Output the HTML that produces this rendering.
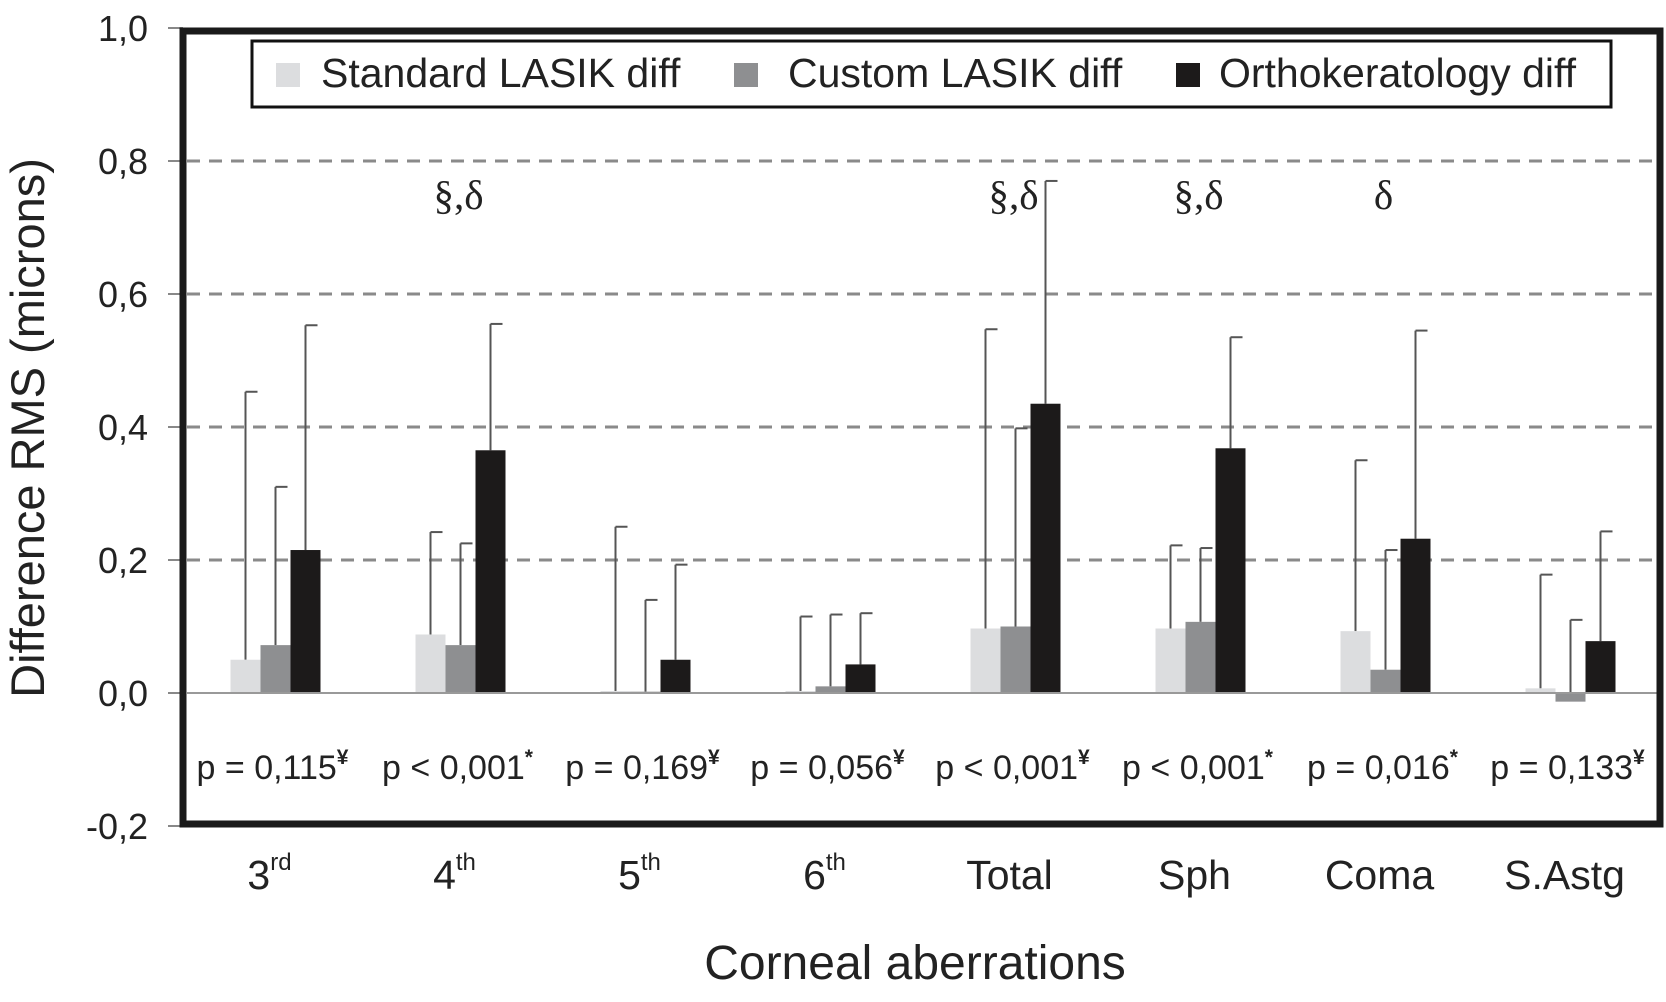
<!DOCTYPE html>
<html><head><meta charset="utf-8"><style>
body{margin:0;background:#fff;}
svg{display:block;font-family:"Liberation Sans",sans-serif;}
</style></head><body>
<svg id="chart" width="1666" height="1002">
<g id="grid"></g>
<g id="bars"></g>
<g id="axis"></g>
<rect x="183" y="31" width="1477" height="793" fill="none" stroke="#1a1a1a" stroke-width="7"/>
<g>
<rect x="252" y="41" width="1359" height="66" fill="#fff" stroke="#111" stroke-width="3"/>
<rect x="276" y="63" width="24" height="24" fill="#dcdddf"/>
<text x="321" y="87" font-size="41" fill="#222">Standard LASIK diff</text>
<rect x="734" y="63" width="24" height="24" fill="#8e8f91"/>
<text x="788" y="87" font-size="41" fill="#222">Custom LASIK diff</text>
<rect x="1176" y="63" width="24" height="24" fill="#1c1a1a"/>
<text x="1219" y="87" font-size="41" fill="#222">Orthokeratology diff</text>
</g>
<text transform="translate(44,428) rotate(-90)" text-anchor="middle" font-size="47" fill="#222">Difference RMS (microns)</text>
<text x="915" y="979" text-anchor="middle" font-size="48" fill="#222">Corneal aberrations</text>
<script>
const categories=["3rd","4th","5th","6th","Total","Sph","Coma","S.Astg"];
const catMain=["3","4","5","6","Total","Sph","Coma","S.Astg"];
const catSup=["rd","th","th","th","","","",""];
const standardVals=[0.05,0.088,0.003,0.003,0.097,0.097,0.093,0.007];
const customVals=[0.072,0.072,0.002,0.01,0.1,0.107,0.035,-0.013];
const orthoVals=[0.215,0.365,0.05,0.043,0.435,0.368,0.232,0.078];
const standardErr=[0.453,0.242,0.25,0.115,0.547,0.222,0.35,0.178];
const customErr=[0.31,0.225,0.14,0.118,0.398,0.218,0.215,0.11];
const orthoErr=[0.553,0.555,0.193,0.12,0.77,0.535,0.545,0.243];
const pLabels=["p = 0,115","p < 0,001","p = 0,169","p = 0,056","p < 0,001","p < 0,001","p = 0,016","p = 0,133"];
const pMarks=["¥","*","¥","¥","¥","*","*","¥"];
const sigLabels=["","§,δ","","","§,δ","§,δ","δ",""];
const yTicks=[-0.2,0,0.2,0.4,0.6,0.8,1.0];
const NS="http://www.w3.org/2000/svg";
const x0=183,band=185,bw=30;
function y(v){return 693-(v/0.2)*133;}
function cx(i){return x0+band*i+band/2;}
function mk(tag,attrs,parent,txt){const e=document.createElementNS(NS,tag);for(const k in attrs)e.setAttribute(k,attrs[k]);if(txt!==undefined)e.textContent=txt;parent.appendChild(e);return e;}
const grid=document.getElementById('grid'),bars=document.getElementById('bars'),axis=document.getElementById('axis'),svg=document.getElementById('chart');
yTicks.forEach(t=>{
  if(t>0&&t<1){const l=mk('line',{x1:187,x2:1657,y1:y(t),y2:y(t),stroke:'#8a8a8a','stroke-width':3,'stroke-dasharray':'13,9'},grid);
  
  }
  const tk=mk('line',{x1:168,x2:183,y1:y(t),y2:y(t),stroke:'#888','stroke-width':2},axis);
  
  
  const lb=mk('text',{x:148,y:y(t)+13,'text-anchor':'end','font-size':36,fill:'#222'},axis,t.toFixed(1).replace('.',','));
  
  
});
const zl=mk('line',{x1:187,x2:1657,y1:y(0),y2:y(0),stroke:'#999','stroke-width':2},axis);


const series=[[standardVals,standardErr,'#dcdddf'],[customVals,customErr,'#8e8f91'],[orthoVals,orthoErr,'#1c1a1a']];
categories.forEach((c,i)=>{
  series.forEach((s,j)=>{
    const v=s[0][i],e=s[1][i];const bx=cx(i)-45+j*bw;
    const top=Math.min(y(v),y(0)),h=Math.abs(y(v)-y(0));
    const ex=bx+bw/2;
    const el=mk('line',{x1:ex,x2:ex,y1:y(Math.max(v,0)),y2:y(e),stroke:'#555','stroke-width':2},bars);
    
    
    const cp=mk('line',{x1:ex,x2:ex+12,y1:y(e),y2:y(e),stroke:'#555','stroke-width':2},bars);
    
    
    const r=mk('rect',{x:bx,y:top,width:bw,height:Math.max(h,1),fill:s[2]},bars);
    
    
  });
  const p=mk('text',{x:cx(i)-3,y:779,'text-anchor':'middle','font-size':34,fill:'#222'},svg,pLabels[i]);
  
  
  mk('tspan',{dy:-15,'font-size':21,'font-weight':'bold'},p,pMarks[i]);
  if(sigLabels[i]){const sg=mk('text',{x:cx(i)-2,y:209,'text-anchor':'middle','font-size':41,fill:'#222','font-family':'Liberation Serif, serif'},svg,sigLabels[i]);
  
  }
  const cl=mk('text',{x:cx(i)-6,y:889,'text-anchor':'middle','font-size':41,fill:'#222'},svg,catMain[i]);
  
  
  if(catSup[i])mk('tspan',{dy:-19,'font-size':24},cl,catSup[i]);
});
</script>
</svg>
</body></html>
